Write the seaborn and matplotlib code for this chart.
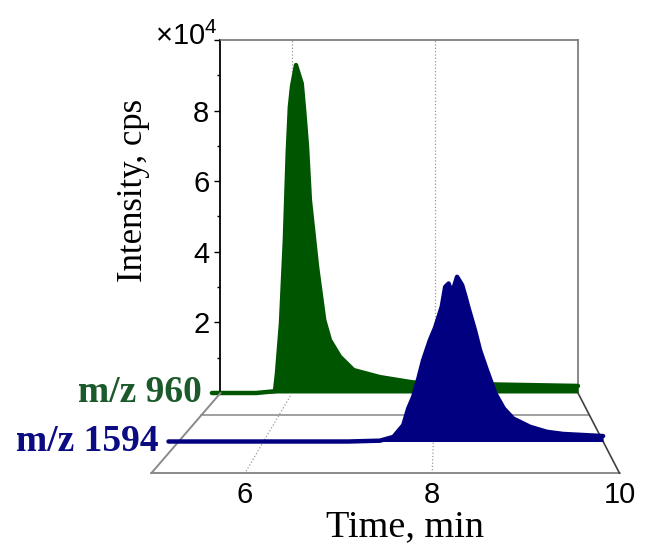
import numpy as np
import matplotlib
matplotlib.use("Agg")
import matplotlib.pyplot as plt
from matplotlib.ticker import MultipleLocator
import seaborn as sns


# chromatogram traces (time in min, intensity in 1e4 cps)
green_time = [4.88, 5.50, 5.762, 5.79, 5.846, 5.90, 5.94, 5.97, 6.00, 6.056, 6.10,
              6.136, 6.17, 6.21, 6.25, 6.28, 6.35, 6.45, 6.53, 6.67, 6.86, 7.23,
              7.69, 8.87, 10.0]
green_int = [0.0, 0.0, 0.05, 0.56, 1.98, 4.33, 6.8, 8.1, 8.68, 9.29, 9.0,
             8.77, 8.0, 6.98, 5.47, 4.9, 3.58, 2.07, 1.5, 1.03, 0.65, 0.45,
             0.3, 0.24, 0.2]

blue_time = [4.88, 7.0, 7.372, 7.53, 7.646, 7.705, 7.764, 7.82, 7.88, 7.96, 8.02,
             8.10, 8.14, 8.18, 8.22, 8.28, 8.34, 8.38, 8.41, 8.49, 8.55, 8.63,
             8.73, 8.83, 8.94, 9.14, 9.34, 9.53, 10.0]
blue_int = [0.0, 0.0, 0.02, 0.11, 0.39, 0.79, 1.07, 1.47, 1.94, 2.42, 2.71,
            3.22, 3.69, 3.77, 3.54, 3.93, 3.73, 3.45, 3.22, 2.66, 2.18, 1.71,
            1.15, 0.79, 0.55, 0.35, 0.23, 0.18, 0.13]

series_names = ["m/z 960", "m/z 1594"]
series_colors = ["#005500", "#000080"]
label_colors = ["#1b5a2a", "#0b0b82"]
series_depth = [0.0, 2 / 3]
floor_rows = [1 / 3, 1.0]
floor_grid = [6, 8]
front_ticks = [6, 8, 10]
y_ticks = [0, 2, 4, 6, 8, 10]
y_labels = ["", "2", "4", "6", "8", ""]

T0, T1 = 5, 10
I0, I1 = 0, 10

sns.set_theme(style="white")
plt.rcParams["font.family"] = ["Liberation Sans", "DejaVu Sans"]
plt.rcParams["mathtext.fontset"] = "custom"
plt.rcParams["mathtext.rm"] = "Liberation Sans"
plt.rcParams["text.color"] = "black"
plt.rcParams["axes.labelcolor"] = "black"
plt.rcParams["ytick.color"] = "black"
SERIF = ["Liberation Serif", "DejaVu Serif"]

W, H = 645, 546
fig = plt.figure(figsize=(W / 100, H / 100), dpi=100)

# back wall (pixel box on the figure)
BX0, BX1, BY0, BY1 = 220.5, 578.0, 393.0, 40.0
VPX, VPY = 444.0, 134.0       # vanishing point of the floor
DEPTH_K = 0.2366              # front plane is 1.31x the back plane

ax = fig.add_axes([BX0 / W, 1 - BY0 / H, (BX1 - BX0) / W, (BY0 - BY1) / H])
ax.set_xlim(T0, T1)
ax.set_ylim(I0, I1)
ax.set_facecolor("none")
for side in ["top", "right"]:
    ax.spines[side].set_color("#7f7f7f")
    ax.spines[side].set_linewidth(1.3)
ax.spines["left"].set_color("black")
ax.spines["left"].set_linewidth(1.3)
ax.spines["bottom"].set_visible(False)

ax.set_xticks(floor_grid)
ax.tick_params(axis="x", length=0, labelbottom=False)
ax.grid(axis="x", color="#9a9a9a", linestyle=":", linewidth=0.9)

ax.set_yticks(y_ticks)
ax.set_yticklabels(y_labels)
ax.yaxis.set_minor_locator(MultipleLocator(1))
ax.tick_params(axis="y", which="major", direction="out", length=4, width=1,
               pad=4, labelsize=21, left=True, color="black", labelcolor="black")
ax.tick_params(axis="y", which="minor", direction="out", length=2.5, width=1,
               left=True, color="black")
ax.set_ylabel("Intensity, cps", family=SERIF, fontsize=25, color="black")
ax.yaxis.set_label_coords(-0.197, 0.575)

ax.fill_between(green_time, green_int, 0, color=series_colors[0], linewidth=0,
                clip_on=False, zorder=3)
ax.plot(green_time, green_int, color=series_colors[0], linewidth=3.2,
        clip_on=False, zorder=3)


def proj(t, inten, d):
    s = 1.0 / (1.0 - DEPTH_K * np.asarray(d, float))
    xb = BX0 + (np.asarray(t, float) - T0) * (BX1 - BX0) / (T1 - T0)
    yb = BY0 - np.asarray(inten, float) * (BY0 - BY1) / (I1 - I0)
    return VPX + (xb - VPX) * s, VPY + (yb - VPY) * s


# overlay in pixel coordinates for the floor and the front trace
ov = fig.add_axes([0, 0, 1, 1], zorder=5)
ov.set_xlim(0, W)
ov.set_ylim(H, 0)
ov.axis("off")
ov.patch.set_alpha(0)

depths = [0.0, 1.0]
for row in floor_rows:
    fx, fy = proj([T0, T1], [0, 0], row)
    ov.plot(fx, fy, color="#a0a0a0" if row < 1 else "#8a8a8a", linewidth=1.4, zorder=1)
fx, fy = proj([T0, T0], [0, 0], depths)
ov.plot(fx, fy, color="#8a8a8a", linewidth=1.4, zorder=1)
fx, fy = proj([T1, T1], [0, 0], depths)
ov.plot(fx, fy, color="#404040", linewidth=1.2, zorder=1)
for t in floor_grid:
    fx, fy = proj([t, t], [0, 0], depths)
    ov.plot(fx, fy, color="#9a9a9a", linestyle=":", linewidth=0.9, zorder=1)

for t in front_ticks:
    fx, fy = proj(t, 0, 1.0)
    ov.text(fx, fy + 21.5, str(t), ha="center", va="center", fontsize=21)

ov.text(405, 536, "Time, min", ha="center", va="baseline", family=SERIF, fontsize=27.5)
ov.text(217, 45, r"$\mathregular{\times10^{4}}$", ha="right", va="baseline", fontsize=21)

bx, by = proj(blue_time, blue_int, series_depth[1])
_, by0 = proj(blue_time, np.zeros(len(blue_time)), series_depth[1])
ov.fill_between(bx, by, by0, color=series_colors[1], linewidth=0, zorder=4)
ov.plot(bx, by, color=series_colors[1], linewidth=3.2, zorder=4)

starts = [green_time[0], blue_time[0]]
for name, col, d, t in zip(series_names, label_colors, series_depth, starts):
    lx, ly = proj(t, 0, d)
    ov.text(lx - 10, ly, name, ha="right", va="center", family=SERIF,
            fontweight="bold", fontsize=27, color=col)

fig.savefig("out.png", dpi=100)
